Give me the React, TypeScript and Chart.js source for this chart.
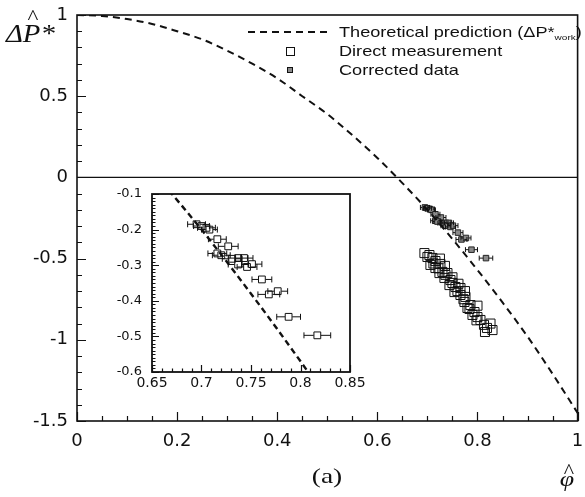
import React, { useEffect, useRef } from "react";
import { Chart, registerables } from "chart.js";

Chart.register(...registerables);

// ---------- data ----------
const theoryPhi = [0, 0.05, 0.1, 0.15, 0.2, 0.25, 0.3, 0.35, 0.4, 0.45, 0.5, 0.55, 0.6, 0.65, 0.7, 0.75, 0.8, 0.85, 0.9, 0.95, 1];
const theoryP = [1, 0.994, 0.975, 0.945, 0.9, 0.85, 0.78, 0.7, 0.61, 0.5, 0.39, 0.26, 0.12, -0.035, -0.2, -0.38, -0.57, -0.77, -0.98, -1.21, -1.45];

const directPhi = [0.694, 0.704, 0.71, 0.716, 0.726, 0.706, 0.716, 0.73, 0.724, 0.74, 0.734, 0.746, 0.744, 0.756, 0.766, 0.754, 0.766, 0.776, 0.774, 0.786, 0.78, 0.794, 0.79, 0.8, 0.806, 0.813, 0.819, 0.83, 0.815, 0.7, 0.712, 0.722, 0.736, 0.75, 0.76, 0.772, 0.784, 0.798, 0.725, 0.735, 0.75, 0.762, 0.775, 0.8, 0.826];
const directP = [-0.466, -0.478, -0.496, -0.515, -0.533, -0.539, -0.558, -0.582, -0.589, -0.589, -0.619, -0.632, -0.663, -0.675, -0.681, -0.706, -0.724, -0.736, -0.767, -0.786, -0.804, -0.829, -0.847, -0.86, -0.878, -0.908, -0.927, -0.94, -0.952, -0.49, -0.53, -0.56, -0.6, -0.65, -0.7, -0.75, -0.81, -0.88, -0.5, -0.545, -0.615, -0.655, -0.7, -0.79, -0.9];

const correctedPhi = [0.695, 0.7, 0.705, 0.708, 0.716, 0.727, 0.716, 0.72, 0.731, 0.737, 0.743, 0.737, 0.746, 0.751, 0.761, 0.768, 0.777, 0.788, 0.817];
const correctedP = [-0.185, -0.19, -0.195, -0.2, -0.227, -0.247, -0.267, -0.272, -0.282, -0.28, -0.28, -0.298, -0.305, -0.297, -0.34, -0.382, -0.373, -0.445, -0.497];
const correctedErr = [0.009, 0.008, 0.009, 0.008, 0.009, 0.01, 0.0095, 0.009, 0.01, 0.01, 0.009, 0.01, 0.01, 0.01, 0.01, 0.011, 0.01, 0.012, 0.0135];

const mainXTicks = [0, 0.2, 0.4, 0.6, 0.8, 1];
const mainXLabels = ["0", "0.2", "0.4", "0.6", "0.8", "1"];
const mainYTicks = [-1.5, -1, -0.5, 0, 0.5, 1];
const mainYLabels = ["-1.5", "-1", "-0.5", "0", "0.5", "1"];
const insetXTicks = [0.65, 0.7, 0.75, 0.8, 0.85];
const insetXLabels = ["0.65", "0.7", "0.75", "0.8", "0.85"];
const insetYTicks = [-0.6, -0.5, -0.4, -0.3, -0.2, -0.1];
const insetYLabels = ["-0.6", "-0.5", "-0.4", "-0.3", "-0.2", "-0.1"];

const legendLabels = ["Theoretical prediction (\u0394P*", "Direct measurement", "Corrected data"];
const legendSub = "work";
const yTitle = "\u0394P*";
const xTitle = "\u03C6";
const panelLabel = "(a)";

const INK = "#111";
const TICK_FONT = "'DejaVu Sans', 'Liberation Sans', sans-serif";

const toXY = (xs: number[], ys: number[]) => xs.map((x, i) => ({ x, y: ys[i] }));

function minorList(min: number, max: number, step: number) {
  const out: number[] = [];
  const n = Math.round((max - min) / step);
  for (let i = 0; i <= n; i++) out.push(+(min + i * step).toFixed(6));
  return out;
}

function stretchText(ctx: CanvasRenderingContext2D, text: string, x: number, y: number, font: string, sx: number, align: string = "left") {
  ctx.save();
  ctx.font = font;
  const w = ctx.measureText(text).width * sx;
  let x0 = x;
  if (align === "center") x0 = x - w / 2;
  else if (align === "right") x0 = x - w;
  ctx.translate(x0, y);
  ctx.scale(sx, 1);
  ctx.textAlign = "left";
  ctx.textBaseline = "alphabetic";
  ctx.fillStyle = INK;
  ctx.fillText(text, 0, 0);
  ctx.restore();
  return w;
}

function errorBarPlugin(capHalf: number, gapHalf: number) {
  return {
    id: "errorBars",
    afterDatasetsDraw(chart: any) {
      const { ctx, chartArea } = chart;
      const xs = chart.scales.x;
      const ys = chart.scales.y;
      chart.data.datasets.forEach((ds: any) => {
        if (!ds.errX) return;
        ctx.save();
        ctx.beginPath();
        ctx.rect(chartArea.left, chartArea.top, chartArea.right - chartArea.left, chartArea.bottom - chartArea.top);
        ctx.clip();
        ctx.strokeStyle = INK;
        ctx.lineWidth = 1;
        ds.data.forEach((p: any, j: number) => {
          const e = ds.errX[j];
          const px = xs.getPixelForValue(p.x);
          const xl = xs.getPixelForValue(p.x - e);
          const xr = xs.getPixelForValue(p.x + e);
          const py = ys.getPixelForValue(p.y);
          ctx.beginPath();
          ctx.moveTo(xl, py);
          ctx.lineTo(px - gapHalf, py);
          ctx.moveTo(px + gapHalf, py);
          ctx.lineTo(xr, py);
          ctx.moveTo(xl, py - capHalf);
          ctx.lineTo(xl, py + capHalf);
          ctx.moveTo(xr, py - capHalf);
          ctx.lineTo(xr, py + capHalf);
          ctx.stroke();
        });
        ctx.restore();
      });
    },
  };
}

function framePlugin(cfg: {
  xMajor: number[]; xMinor: number[]; yMajor: number[]; yMinor: number[];
  majorLen: number; minorLen: number; frameWidth: number; zeroLine?: boolean; background?: string;
}) {
  return {
    id: "frameTicks",
    beforeDraw(chart: any) {
      if (!cfg.background) return;
      const { ctx, width, height } = chart;
      ctx.save();
      ctx.fillStyle = cfg.background;
      ctx.fillRect(0, 0, width, height);
      ctx.restore();
    },
    beforeDatasetsDraw(chart: any) {
      if (!cfg.zeroLine) return;
      const { ctx, chartArea } = chart;
      const y0 = chart.scales.y.getPixelForValue(0);
      ctx.save();
      ctx.strokeStyle = INK;
      ctx.lineWidth = 1.3;
      ctx.beginPath();
      ctx.moveTo(chartArea.left, y0);
      ctx.lineTo(chartArea.right, y0);
      ctx.stroke();
      ctx.restore();
    },
    afterDraw(chart: any) {
      const { ctx, chartArea } = chart;
      const xs = chart.scales.x;
      const ys = chart.scales.y;
      ctx.save();
      ctx.strokeStyle = INK;
      ctx.lineWidth = 1.2;
      ctx.beginPath();
      cfg.xMinor.forEach((v) => {
        const len = cfg.xMajor.some((m) => Math.abs(m - v) < 1e-6) ? cfg.majorLen : cfg.minorLen;
        const px = Math.round(xs.getPixelForValue(v)) + 0.5;
        ctx.moveTo(px, chartArea.bottom);
        ctx.lineTo(px, chartArea.bottom - len);
      });
      cfg.yMinor.forEach((v) => {
        const len = cfg.yMajor.some((m) => Math.abs(m - v) < 1e-6) ? cfg.majorLen : cfg.minorLen;
        const py = Math.round(ys.getPixelForValue(v)) + 0.5;
        ctx.moveTo(chartArea.left, py);
        ctx.lineTo(chartArea.left + len, py);
      });
      ctx.stroke();
      ctx.lineWidth = cfg.frameWidth;
      ctx.strokeRect(chartArea.left, chartArea.top, chartArea.right - chartArea.left, chartArea.bottom - chartArea.top);
      ctx.restore();
    },
  };
}

const mainTextPlugin = {
  id: "mainText",
  afterDraw(chart: any) {
    const { ctx } = chart;
    // y title
    stretchText(ctx, yTitle, 6, 42, "italic 25px 'Liberation Serif', serif", 1.15);
    stretchText(ctx, "^", 33, 24, "21px 'Liberation Serif', serif", 1.1, "center");
    // x title
    stretchText(ctx, xTitle, 567, 486, "italic 20px 'Liberation Serif', serif", 1.3, "center");
    stretchText(ctx, "^", 569, 478, "20px 'Liberation Serif', serif", 1.1, "center");
    // panel label
    stretchText(ctx, panelLabel, 327, 483, "22px 'Liberation Serif', serif", 1.25, "center");

    // legend
    const lf = "14.5px 'Liberation Sans', Arial, sans-serif";
    const tx = 339;
    ctx.save();
    ctx.strokeStyle = INK;
    ctx.lineWidth = 2;
    ctx.setLineDash([7, 5]);
    ctx.beginPath();
    ctx.moveTo(248, 32);
    ctx.lineTo(328, 32);
    ctx.stroke();
    ctx.setLineDash([]);
    ctx.lineWidth = 1;
    ctx.strokeRect(286.5, 47.5, 8, 8);
    ctx.fillStyle = "#8a8a8a";
    ctx.fillRect(287.5, 67.5, 5, 5);
    ctx.strokeRect(287.5, 67.5, 5, 5);
    ctx.restore();
    let w = stretchText(ctx, legendLabels[0], tx, 37, lf, 1.25);
    w += stretchText(ctx, legendSub, tx + w, 40, "8px 'Liberation Sans', Arial, sans-serif", 1.25);
    stretchText(ctx, ")", tx + w, 37, lf, 1.25);
    stretchText(ctx, legendLabels[1], tx, 56, lf, 1.25);
    stretchText(ctx, legendLabels[2], tx, 75, lf, 1.25);
  },
};

export default function App() {
  const mainRef = useRef<HTMLCanvasElement>(null);
  const insetRef = useRef<HTMLCanvasElement>(null);

  useEffect(() => {
    document.body.style.margin = "0";
    const theory = toXY(theoryPhi, theoryP);
    const corrected = toXY(correctedPhi, correctedP);

    const main = new Chart(mainRef.current as HTMLCanvasElement, {
      type: "scatter",
      data: {
        datasets: [
          {
            label: "Theoretical prediction",
            data: theory,
            showLine: true,
            borderColor: INK,
            borderWidth: 2,
            borderDash: [7, 5],
            pointRadius: 0,
            cubicInterpolationMode: "monotone",
            fill: false,
          } as any,
          {
            label: "Direct measurement",
            data: toXY(directPhi, directP),
            pointStyle: "rect",
            pointRadius: 6.4,
            borderColor: INK,
            borderWidth: 1,
            backgroundColor: "rgba(0,0,0,0)",
          } as any,
          {
            label: "Corrected data",
            data: corrected,
            errX: correctedErr,
            pointStyle: "rect",
            pointRadius: 3.9,
            borderColor: "#222",
            borderWidth: 1,
            backgroundColor: "#8a8a8a",
          } as any,
        ],
      },
      options: {
        responsive: false,
        animation: false,
        devicePixelRatio: 1,
        layout: { padding: { top: 15, right: 4, left: 0, bottom: 0 } },
        plugins: { legend: { display: false }, tooltip: { enabled: false } },
        scales: {
          x: {
            type: "linear",
            min: 0,
            max: 1,
            afterBuildTicks: (s: any) => { s.ticks = mainXTicks.map((v) => ({ value: v })); },
            afterFit: (s: any) => { s.height = 76; s.paddingLeft = 0; s.paddingRight = 0; },
            ticks: {
              callback: (_v: any, i: number) => mainXLabels[i],
              font: { family: TICK_FONT, size: 18 },
              color: INK,
              padding: 10,
              maxRotation: 0,
              autoSkip: false,
            },
            grid: { display: false, drawTicks: false },
            border: { display: false },
          },
          y: {
            type: "linear",
            min: -1.5,
            max: 1,
            afterBuildTicks: (s: any) => { s.ticks = mainYTicks.map((v) => ({ value: v })); },
            afterFit: (s: any) => { s.width = 77; s.paddingTop = 0; s.paddingBottom = 0; },
            ticks: {
              callback: (_v: any, i: number) => mainYLabels[i],
              font: { family: TICK_FONT, size: 18 },
              color: INK,
              padding: 9,
              autoSkip: false,
            },
            grid: { display: false, drawTicks: false },
            border: { display: false },
          },
        },
      } as any,
      plugins: [
        framePlugin({
          xMajor: mainXTicks, xMinor: minorList(0, 1, 0.05),
          yMajor: mainYTicks, yMinor: minorList(-1.5, 1, 0.1),
          majorLen: 9, minorLen: 5, frameWidth: 1.6, zeroLine: true,
        }),
        errorBarPlugin(2.5, 2.8),
        mainTextPlugin,
      ],
    });

    const inset = new Chart(insetRef.current as HTMLCanvasElement, {
      type: "scatter",
      data: {
        datasets: [
          {
            label: "Theoretical prediction",
            data: theory,
            showLine: true,
            borderColor: INK,
            borderWidth: 2.4,
            borderDash: [6, 4],
            pointRadius: 0,
            cubicInterpolationMode: "monotone",
            fill: false,
          } as any,
          {
            label: "Corrected data",
            data: corrected,
            errX: correctedErr,
            pointStyle: "rect",
            pointRadius: 4.8,
            borderColor: INK,
            borderWidth: 1,
            backgroundColor: "rgba(0,0,0,0)",
          } as any,
        ],
      },
      options: {
        responsive: false,
        animation: false,
        devicePixelRatio: 1,
        layout: { padding: { top: 9, right: 30, left: 0, bottom: 0 } },
        plugins: { legend: { display: false }, tooltip: { enabled: false } },
        scales: {
          x: {
            type: "linear",
            min: 0.65,
            max: 0.85,
            afterBuildTicks: (s: any) => { s.ticks = insetXTicks.map((v) => ({ value: v })); },
            afterFit: (s: any) => { s.height = 28; s.paddingLeft = 0; s.paddingRight = 0; },
            ticks: {
              callback: (_v: any, i: number) => insetXLabels[i],
              font: { family: TICK_FONT, size: 14 },
              color: INK,
              padding: 3,
              maxRotation: 0,
              autoSkip: false,
            },
            grid: { display: false, drawTicks: false },
            border: { display: false },
          },
          y: {
            type: "linear",
            min: -0.6,
            max: -0.1,
            afterBuildTicks: (s: any) => { s.ticks = insetYTicks.map((v) => ({ value: v })); },
            afterFit: (s: any) => { s.width = 62; s.paddingTop = 0; s.paddingBottom = 0; },
            ticks: {
              callback: (_v: any, i: number) => insetYLabels[i],
              font: { family: TICK_FONT, size: 13 },
              color: INK,
              padding: 10,
              autoSkip: false,
            },
            grid: { display: false, drawTicks: false },
            border: { display: false },
          },
        },
      } as any,
      plugins: [
        framePlugin({
          xMajor: insetXTicks, xMinor: minorList(0.65, 0.85, 0.01),
          yMajor: insetYTicks, yMinor: minorList(-0.6, -0.1, 0.01),
          majorLen: 7, minorLen: 3.5, frameWidth: 1.8, background: "#ffffff",
        }),
        errorBarPlugin(3, 3.6),
      ],
    });

    return () => {
      main.destroy();
      inset.destroy();
    };
  }, []);

  return (
    <div style={{ position: "absolute", left: 0, top: 0, width: 585, height: 497, background: "#fff" }}>
      <canvas ref={mainRef} width={585} height={497} style={{ position: "absolute", left: 0, top: 0 }} />
      <canvas ref={insetRef} width={290} height={215} style={{ position: "absolute", left: 90, top: 185 }} />
    </div>
  );
}
